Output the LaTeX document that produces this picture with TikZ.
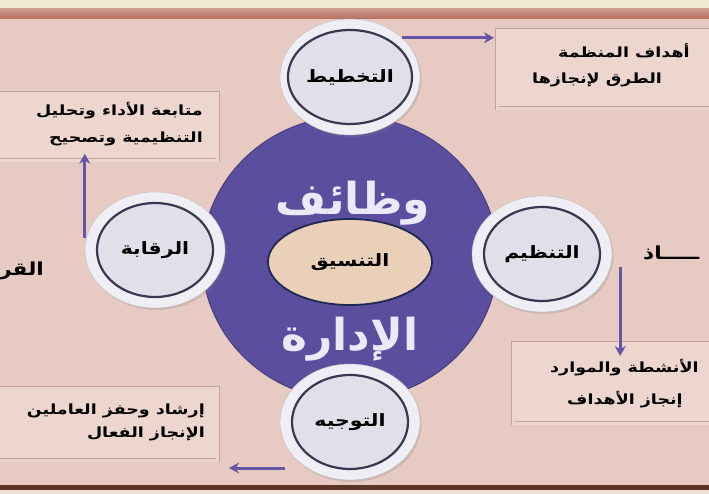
\documentclass[tikz,border=0pt]{standalone}
\usepackage{fontspec}
\usepackage{tikz}
\usetikzlibrary{shapes,arrows.meta,positioning,shadows}
\TeXXeTstate=1
\newfontfamily\arabicfont[Script=Arabic]{DejaVu Sans}
\newfontfamily\boxfont[Script=Arabic,FakeStretch=1.25]{DejaVu Sans}
\newfontfamily\labelfont[Script=Arabic,FakeStretch=1.2]{DejaVu Sans}
\definecolor{bgpink}{HTML}{E7CBC2}
\definecolor{boxfill}{HTML}{ECD6CE}
\definecolor{boxline}{HTML}{C4A29A}
\definecolor{corepurple}{HTML}{5B4E9E}
\definecolor{arrowpurple}{HTML}{6455A6}
\definecolor{btnwhite}{HTML}{EFEEF4}
\definecolor{btngrey}{HTML}{E1E0EA}
\definecolor{ringdark}{HTML}{383850}
\definecolor{coordtan}{HTML}{EAD0B8}
\definecolor{coordnavy}{HTML}{1F2A52}
\definecolor{lilac}{HTML}{ECE8F7}
\definecolor{cream}{HTML}{F2EBD3}
\definecolor{brick}{HTML}{B86E5E}
\definecolor{umber}{HTML}{5C3324}
\tikzstyle{button} = [ellipse,fill=btnwhite,draw=black!25,line width=0.4pt,inner sep=0,minimum width=140pt,minimum height=116pt,drop shadow={opacity=0.25,shadow xshift=1.5pt,shadow yshift=-2pt}]
\tikzstyle{buttonface} = [ellipse,fill=btngrey,draw=ringdark,line width=2.2pt,inner sep=0,minimum width=116pt,minimum height=94pt,font=\labelfont\bfseries\fontsize{17}{20}\selectfont]
\tikzstyle{panel} = [rectangle,draw=boxline,double=boxfill,double distance=2.5pt,fill=boxfill,line width=0.7pt,inner sep=0]
\tikzstyle{boxtext} = [inner sep=0,font=\boxfont\bfseries\fontsize{14}{17}\selectfont]
\tikzstyle{sidetext} = [inner sep=0,font=\labelfont\bfseries\fontsize{18}{20}\selectfont]
\tikzstyle{title} = [inner sep=0,text=lilac,font=\arabicfont\bfseries\fontsize{44}{48}\selectfont]
\tikzstyle{flow} = [-{Stealth[length=10pt,width=11pt]},draw=arrowpurple,line width=3pt]

\begin{document}
\begin{tikzpicture}[x=1pt,y=-1pt]
      \useasboundingbox (0,0) rectangle (709,494);
      \clip (0,0) rectangle (709,494);
      \fill[cream] (0,0) rectangle (709,9);
      \shade[top color=brick!70!white,bottom color=brick] (0,9) rectangle (709,19);
      \fill[bgpink] (0,19) rectangle (709,485);
      \fill[umber] (0,485) rectangle (709,490);
      \fill[bgpink!60!white] (0,490) rectangle (709,494);

      \node[panel,anchor=north west,minimum width=240pt,minimum height=78pt] (planbox) at (497,30) {};
      \node[boxtext,anchor=west] (plan1) at (558,51) {\beginR أهداف المنظمة\endR};
      \node[boxtext,anchor=west] (plan2) at (532,80) {\beginR الطرق لإنجازها\endR};

      \node[panel,anchor=north east,minimum width=240pt,minimum height=67pt] (ctrlbox) at (218,93) {};
      \node[boxtext,anchor=east] (ctrl1) at (203,111) {\beginR متابعة الأداء وتحليل\endR};
      \node[boxtext,anchor=east] (ctrl2) at (203,139) {\beginR التنظيمية وتصحيح\endR};

      \node[panel,anchor=north west,minimum width=220pt,minimum height=80pt] (orgabox) at (513,343) {};
      \node[boxtext,anchor=west] (orga1) at (550,368) {\beginR الأنشطة والموارد\endR};
      \node[boxtext,anchor=west] (orga2) at (567,400) {\beginR إنجاز الأهداف\endR};

      \node[panel,anchor=north east,minimum width=240pt,minimum height=72pt] (leadbox) at (218,388) {};
      \node[boxtext,anchor=east] (lead1) at (205,411) {\beginR إرشاد وحفز العاملين\endR};
      \node[boxtext,anchor=east] (lead2) at (205,434) {\beginR الإنجاز الفعال\endR};

      \node[sidetext,anchor=west] (dec1) at (643,253) {\beginR ـــــاذ\endR};
      \node[sidetext,anchor=east] (dec2) at (44,271) {\beginR القر\endR};

      \node[ellipse,fill=corepurple,draw=corepurple!80!black,line width=1pt,minimum width=296pt,minimum height=284pt] (core) at (350,258) {};
      \node[title] (wz) at (353,203) {\beginR وظائف\endR};
      \node[title] (idr) at (350,339) {\beginR الإدارة\endR};
      \node[ellipse,fill=coordtan,draw=coordnavy,line width=1.8pt,minimum width=164pt,minimum height=86pt,font=\labelfont\bfseries\fontsize{17}{20}\selectfont] (coord) at (350,262) {\beginR التنسيق\endR};

      \node[button] (plan) at (350,77) {};
      \node[buttonface] (planf) at (plan) {\beginR التخطيط\endR};
      \node[button] (orga) at (542,254) {};
      \node[buttonface] (orgaf) at (orga) {\beginR التنظيم\endR};
      \node[button] (ctrl) at (155,250) {};
      \node[buttonface] (ctrlf) at (ctrl) {\beginR الرقابة\endR};
      \node[button] (lead) at (350,422) {};
      \node[buttonface] (leadf) at (lead) {\beginR التوجيه\endR};

      \draw[flow,shorten >=3pt] (plan.37) -- (plan.37 -| planbox.west);
      \draw[flow] ([shift={(8pt,-13pt)}]orga.east) -- ([shift={(8pt,-13pt)}]orga.east |- orgabox.north);
      \draw[flow,shorten >=5pt] ([yshift=12pt]ctrl.west) -- ([yshift=12pt]ctrl.west |- ctrlbox.south);
      \draw[flow,shorten >=6pt] ([shift={(5pt,-46pt)}]lead.west) -- ([shift={(5pt,-46pt)}]lead.west -| leadbox.east);
    \end{tikzpicture}
\end{document}
